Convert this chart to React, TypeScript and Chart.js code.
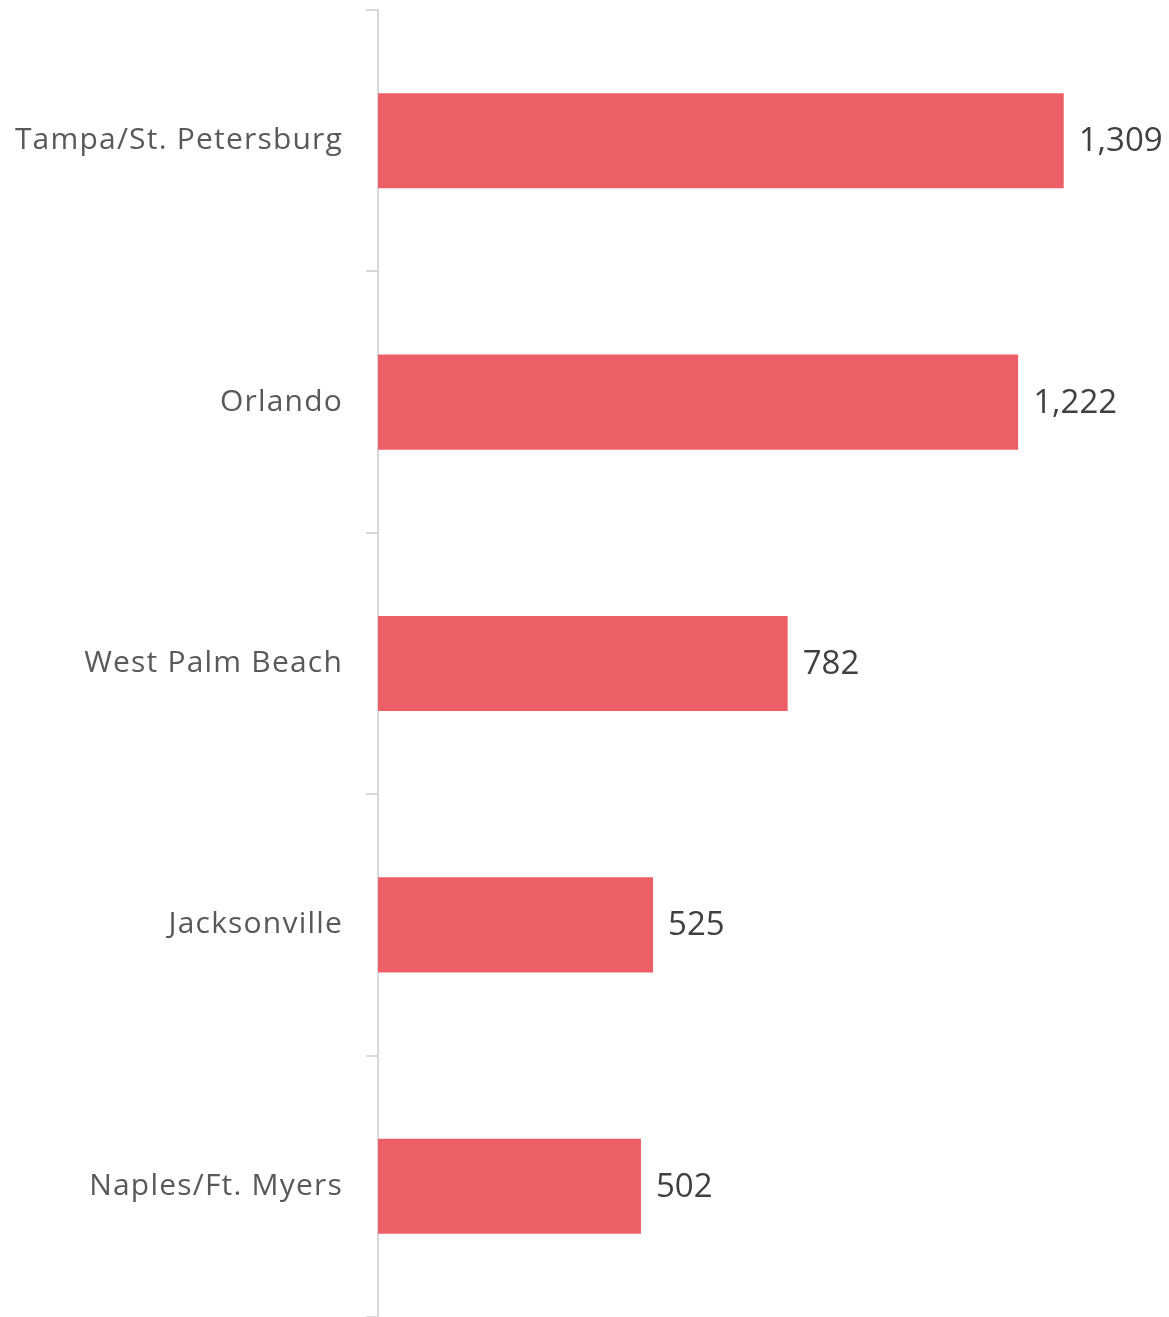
import React, { useEffect, useRef } from "react";
import { Chart, registerables } from "chart.js";

Chart.register(...registerables);

const categories = ["Tampa/St. Petersburg", "Orlando", "West Palm Beach", "Jacksonville", "Naples/Ft. Myers"];
const values = [1309, 1222, 782, 525, 502];

const spacing = {
  id: "spacing",
  beforeDraw(chart: any) {
    (chart.ctx as any).letterSpacing = "1.2px";
  },
  afterDraw(chart: any) {
    (chart.ctx as any).letterSpacing = "0px";
  },
};

const valueLabels = {
  id: "valueLabels",
  afterDatasetsDraw(chart: any) {
    const ctx = chart.ctx;
    const meta = chart.getDatasetMeta(0);
    ctx.save();
    (ctx as any).letterSpacing = "0px";
    ctx.font = "33px 'Open Sans'";
    ctx.fillStyle = "#404040";
    ctx.textAlign = "left";
    ctx.textBaseline = "middle";
    meta.data.forEach((bar: any, i: number) => {
      const v = chart.data.datasets[0].data[i] as number;
      ctx.fillText(v.toLocaleString("en-US"), bar.x + 15, bar.y + 1);
    });
    ctx.restore();
  },
};

export default function App() {
  const ref = useRef<HTMLCanvasElement>(null);
  useEffect(() => {
    const chart = new Chart(ref.current!, {
      type: "bar",
      data: {
        labels: categories,
        datasets: [
          {
            data: values,
            backgroundColor: "#EC5F67",
            barPercentage: 0.364,
            categoryPercentage: 1,
          },
        ],
      },
      options: {
        indexAxis: "y",
        animation: false,
        responsive: false,
        layout: { padding: { top: 10, right: 0, bottom: 0, left: 0 } },
        plugins: { legend: { display: false }, tooltip: { enabled: false } },
        scales: {
          x: { display: false, min: 0, max: 1510 },
          y: {
            afterFit: (s: any) => {
              s.width = 378;
              s.paddingTop = 0;
              s.paddingBottom = 0;
            },
            border: { display: true, color: "#d9d9d9", width: 2 },
            grid: {
              offset: true,
              drawOnChartArea: false,
              drawTicks: true,
              tickLength: 12,
              color: "#d9d9d9",
              lineWidth: 2,
            },
            ticks: {
              padding: 23,
              color: "#595959",
              font: { family: "'Open Sans'", size: 30 },
            },
          },
        },
      },
      plugins: [spacing, valueLabels],
    });
    return () => chart.destroy();
  }, []);
  return (
    <div style={{ position: "fixed", left: 0, top: 0, width: 1169, height: 1317, background: "#fff" }}>
      <canvas ref={ref} width={1169} height={1317} />
    </div>
  );
}
